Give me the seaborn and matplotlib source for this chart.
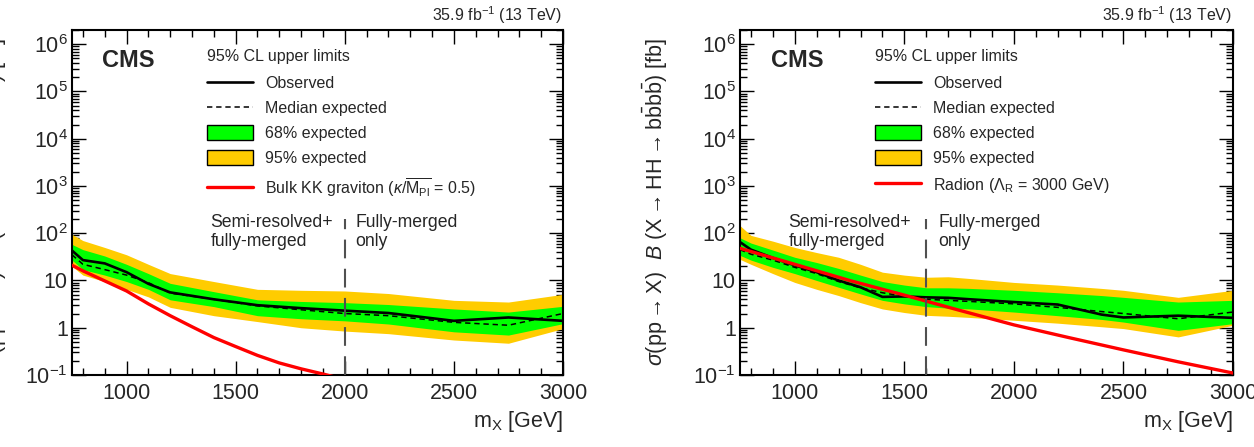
import numpy as np
import pandas as pd
import matplotlib
matplotlib.use("Agg")
import matplotlib.pyplot as plt
import seaborn as sns
from matplotlib.ticker import LogLocator, MultipleLocator, FixedLocator, FixedFormatter, NullFormatter
import matplotlib.transforms as mtransforms
from matplotlib.patches import Patch
from matplotlib.lines import Line2D

# ---------------- data ----------------
# Left panel: bulk KK graviton
mass_L = [750, 800, 900, 1000, 1100, 1200, 1400, 1600, 1800, 2000, 2200, 2500, 2750, 3000]
obs_L = [43, 27, 23, 15, 8.5, 5.6, 4.0, 3.0, 2.6, 2.3, 2.05, 1.4, 1.65, 1.4]
exp_L = [35, 22, 17, 13, 9.0, 5.4, 4.0, 2.9, 2.4, 2.0, 1.8, 1.3, 1.13, 2.0]
g_lo_L = [27, 17, 13, 9.5, 6.5, 3.9, 2.8, 1.8, 1.55, 1.4, 1.2, 0.82, 0.70, 1.22]
g_hi_L = [58, 45, 33, 22, 14, 8.7, 5.8, 3.9, 3.6, 3.4, 3.1, 2.5, 2.15, 2.84]
y_lo_L = [20, 13, 9.5, 6.5, 4.5, 2.7, 1.8, 1.35, 1.0, 0.85, 0.75, 0.55, 0.47, 0.96]
y_hi_L = [95, 70, 50, 35, 22, 14, 9.5, 6.5, 6.2, 6.0, 5.3, 3.8, 3.5, 5.1]
theo_mass_L = [750, 800, 900, 1000, 1100, 1200, 1300, 1400, 1500, 1600, 1700, 1800, 1900, 2000, 2100]
theo_L = [21, 16, 9.8, 6.0, 3.2, 1.8, 1.05, 0.62, 0.40, 0.26, 0.18, 0.135, 0.105, 0.08, 0.06]
theo_label_L = r"Bulk KK graviton ($\kappa/\overline{\mathrm{M}_{\mathrm{Pl}}}$ = 0.5)"
split_L = 2000

# Right panel: radion
mass_R = [750, 800, 900, 1000, 1100, 1200, 1300, 1400, 1500, 1600, 1700, 1800, 2000, 2200, 2400, 2500, 2750, 3000]
obs_R = [65, 45, 30, 21, 15, 10, 7.2, 4.5, 4.6, 4.4, 4.3, 4.0, 3.5, 3.1, 1.9, 1.65, 1.8, 1.62]
exp_R = [45, 36, 27, 19, 14, 9.5, 7.0, 5.5, 4.6, 4.0, 3.8, 3.6, 3.2, 2.7, 2.2, 2.0, 1.55, 2.15]
g_lo_R = [34, 27, 19, 14, 10, 7.2, 5.2, 3.8, 3.2, 2.8, 2.6, 2.5, 2.15, 1.8, 1.5, 1.32, 0.88, 1.22]
g_hi_R = [80, 62, 44, 31, 24, 18, 13, 9.5, 8.0, 7.0, 7.0, 6.8, 6.2, 5.5, 4.8, 4.4, 3.5, 3.8]
y_lo_R = [28, 22, 14, 9.1, 6.5, 4.8, 3.4, 2.5, 2.1, 1.83, 1.75, 1.65, 1.44, 1.25, 1.05, 0.96, 0.64, 1.13]
y_hi_R = [145, 90, 68, 50, 39, 31, 22, 15, 13, 11.7, 12, 11, 9.1, 8.0, 6.8, 6.2, 4.4, 6.2]
theo_mass_R = [750, 1000, 1250, 1500, 1750, 2000, 2250, 2500, 2750, 3000]
theo_R = [48, 22, 10, 4.9, 2.35, 1.15, 0.62, 0.34, 0.19, 0.11]
theo_label_R = r"Radion ($\Lambda_{\mathrm{R}}$ = 3000 GeV)"
split_R = 1600

split_top = 200
y_tick_vals = [0.1, 1, 10, 100, 1e3, 1e4, 1e5, 1e6]
y_tick_labels = [r"$10^{-1}$", "1", "10", r"$10^{2}$", r"$10^{3}$", r"$10^{4}$", r"$10^{5}$", r"$10^{6}$"]
x_tick_vals = [1000, 1500, 2000, 2500, 3000]
x_tick_labels = ["1000", "1500", "2000", "2500", "3000"]
legend_title = "95% CL upper limits"
legend_labels = ["Observed", "Median expected", "68% expected", "95% expected"]
lumi_text = r"35.9 fb$^{-1}$ (13 TeV)"
ylabel = r"$\sigma(\mathrm{pp}\rightarrow\mathrm{X})\ \ \mathit{B}\ (\mathrm{X}\rightarrow\mathrm{HH}\rightarrow\mathrm{b\bar{b}b\bar{b}})$ [fb]"
xlabel = r"m$_{\mathrm{X}}$ [GeV]"

# ---------------- style ----------------
sns.set_theme(style="ticks")
plt.rcParams["font.family"] = ["Liberation Sans", "DejaVu Sans"]
plt.rcParams["mathtext.fontset"] = "custom"
plt.rcParams["mathtext.rm"] = "Liberation Sans"
plt.rcParams["mathtext.it"] = "Liberation Sans:italic"
plt.rcParams["mathtext.bf"] = "Liberation Sans:bold"
plt.rcParams["mathtext.sf"] = "Liberation Sans"
plt.rcParams["axes.unicode_minus"] = True

GREEN = "#00ff00"
YELLOW = "#ffcc00"
RED = "#ff0000"

fig = plt.figure(figsize=(12.54, 4.47), dpi=100)
axL = fig.add_axes([72 / 1254, 72 / 447, 491 / 1254, 345 / 447])
axR = fig.add_axes([740 / 1254, 72 / 447, 493 / 1254, 345 / 447])


def panel(ax, mass, obs, exp, glo, ghi, ylo, yhi, tmass, theo, tlabel, split, semi_x, fully_x, ylab_x):
    ax.fill_between(mass, ylo, yhi, color=YELLOW, lw=0, zorder=1)
    ax.fill_between(mass, glo, ghi, color=GREEN, lw=0, zorder=2)
    df_exp = pd.DataFrame({"m": mass, "v": exp})
    df_obs = pd.DataFrame({"m": mass, "v": obs})
    df_th = pd.DataFrame({"m": tmass, "v": theo})
    sns.lineplot(data=df_exp, x="m", y="v", ax=ax, color="black", lw=1.1,
                 linestyle=(0, (3.5, 2.5)), estimator=None, sort=False, zorder=3)
    sns.lineplot(data=df_obs, x="m", y="v", ax=ax, color="black", lw=1.9,
                 estimator=None, sort=False, zorder=4)
    sns.lineplot(data=df_th, x="m", y="v", ax=ax, color=RED, lw=2.4,
                 estimator=None, sort=False, zorder=5)
    ax.vlines(split, 0.1, split_top, colors="#505050", lw=1.5,
              linestyles=[(0, (9, 5))], zorder=6)

    ax.set_yscale("log")
    ax.set_xlim(750, 3000)
    ax.set_ylim(0.1, 2e6)
    ax.yaxis.set_major_locator(FixedLocator(y_tick_vals))
    ax.yaxis.set_major_formatter(FixedFormatter(y_tick_labels))
    ax.yaxis.set_minor_locator(LogLocator(base=10, subs=np.arange(2, 10), numticks=20))
    ax.yaxis.set_minor_formatter(NullFormatter())
    ax.xaxis.set_major_locator(FixedLocator(x_tick_vals))
    ax.xaxis.set_major_formatter(FixedFormatter(x_tick_labels))
    ax.xaxis.set_minor_locator(MultipleLocator(100))
    ax.tick_params(which="both", direction="in", top=True, right=True, width=1.0, color="black")
    ax.tick_params(which="major", length=10, labelsize=15.5)
    ax.tick_params(which="minor", length=5)
    ax.tick_params(axis="y", which="major", pad=3)
    ax.tick_params(axis="x", which="major", pad=6)
    for s in ax.spines.values():
        s.set_linewidth(1.5)
        s.set_color("black")

    ax.set_xlabel(xlabel, fontsize=15.5, loc="right", labelpad=3)
    ax.set_ylabel(ylabel, fontsize=15.5)
    ax.yaxis.set_label_coords(ylab_x, 0.5)

    ax.text(0.998, 1.012, lumi_text, transform=ax.transAxes, ha="right", va="bottom", fontsize=11.5)
    ax.text(0.062, 0.912, "CMS", transform=ax.transAxes, ha="left", va="center",
            fontsize=17, fontweight="bold")

    trans = mtransforms.blended_transform_factory(ax.transData, ax.transAxes)
    ax.text(semi_x, 0.414, "Semi-resolved+\nfully-merged", transform=trans, ha="left",
            va="center", fontsize=12.7, linespacing=1.15)
    ax.text(fully_x, 0.414, "Fully-merged\nonly", transform=trans, ha="left",
            va="center", fontsize=12.7, linespacing=1.15)

    handles = [
        Line2D([], [], color="black", lw=1.9),
        Line2D([], [], color="black", lw=1.1, linestyle=(0, (3.5, 2.5))),
        Patch(facecolor=GREEN, edgecolor="black", lw=1.0),
        Patch(facecolor=YELLOW, edgecolor="black", lw=1.0),
        Line2D([], [], color=RED, lw=2.4),
    ]
    leg = ax.legend(handles, legend_labels + [tlabel], title=legend_title, loc="upper left",
                    bbox_to_anchor=(0.274, 0.945), frameon=False, fontsize=11.5,
                    title_fontsize=11.5, alignment="left", handlelength=2.9,
                    handleheight=1.05, handletextpad=0.75, labelspacing=0.58,
                    borderpad=0.0, borderaxespad=0.0)
    leg._legend_box.sep = 8


panel(axL, mass_L, obs_L, exp_L, g_lo_L, g_hi_L, y_lo_L, y_hi_L, theo_mass_L, theo_L,
      theo_label_L, split_L, 1385, 2050, -0.128)
panel(axR, mass_R, obs_R, exp_R, g_lo_R, g_hi_R, y_lo_R, y_hi_R, theo_mass_R, theo_R,
      theo_label_R, split_R, 972, 1655, -0.142)

fig.savefig("out.png", dpi=100)
